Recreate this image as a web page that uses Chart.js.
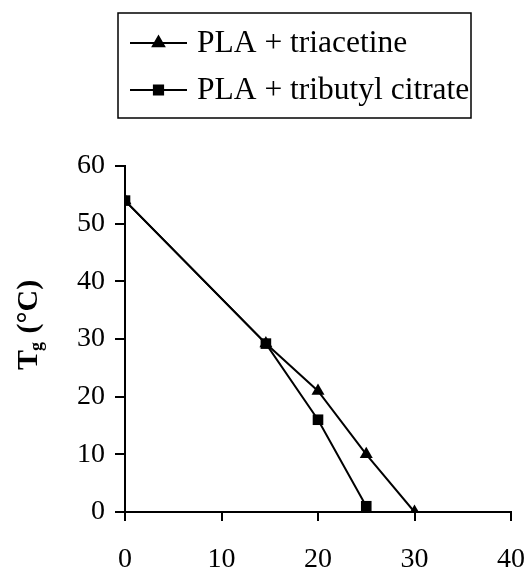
<!DOCTYPE html>
<html>
<head>
<meta charset="utf-8">
<script src="https://cdn.jsdelivr.net/npm/chart.js@4/dist/chart.umd.min.js"></script>
<style>
  html, body { margin: 0; padding: 0; background: #fff; }
  #wrap { width: 532px; height: 571px; }
</style>
</head>
<body>
<div id="wrap"><canvas id="tg_chart" width="532" height="571"></canvas></div>
<script>
// data
const seriesNames = ['PLA + triacetine', 'PLA + tributyl citrate'];
const triacetineX = [0, 14.6, 20, 25, 30];
const triacetineY = [54, 29.2, 21, 10, 0];
const citrateX = [0, 14.6, 20, 25];
const citrateY = [54, 29.2, 16, 1];
const xTicks = [0, 10, 20, 30, 40];
const yTicks = [0, 10, 20, 30, 40, 50, 60];

const serif = "'Liberation Serif', 'DejaVu Serif', serif";

function toPoints(xs, ys){
    return xs.map((x, i) => ({x: x, y: ys[i]}));
}

// legend in a framed box, drawn from the datasets
const boxLegend = {
    id: 'boxLegend',
    afterDraw(chart){
        const ctx = chart.ctx;
        ctx.save();
        ctx.strokeStyle = '#000';
        ctx.lineWidth = 1.5;
        ctx.strokeRect(118, 13, 353, 105);
        const rows = [43, 90];
        chart.data.datasets.forEach((ds, i) => {
            const y = rows[i];
            ctx.lineWidth = 2;
            ctx.beginPath();
            ctx.moveTo(130, y);
            ctx.lineTo(187, y);
            ctx.stroke();
            Chart.helpers.drawPoint(ctx, {pointStyle: ds.pointStyle, radius: 6.5, borderWidth: 1}, 158.5, y);
            ctx.fillStyle = '#000';
            ctx.fill();
            ctx.font = '31.5px ' + serif;
            ctx.textBaseline = 'middle';
            ctx.fillText(ds.label, 197, y + 1);
        });
        ctx.restore();
    }
};

// rotated y title with subscript g
const yTitle = {
    id: 'yTitle',
    afterDraw(chart){
        const ctx = chart.ctx;
        ctx.save();
        ctx.translate(37, 370);
        ctx.rotate(-Math.PI / 2);
        ctx.fillStyle = '#000';
        ctx.textBaseline = 'alphabetic';
        ctx.font = 'bold 30px ' + serif;
        ctx.fillText('T', 0, 0);
        let w = ctx.measureText('T').width;
        ctx.font = 'bold 18px ' + serif;
        ctx.fillText('g', w - 1, 5);
        w += ctx.measureText('g').width;
        ctx.font = 'bold 30px ' + serif;
        ctx.fillText(' (\u00B0C)', w, 0);
        ctx.restore();
    }
};

const data = {
    datasets: [{
        label: seriesNames[0],
        data: toPoints(triacetineX, triacetineY),
        borderColor: '#000',
        backgroundColor: '#000',
        borderWidth: 2,
        pointStyle: 'triangle',
        pointRadius: 7.5,
        pointBorderWidth: 0,
        pointBackgroundColor: '#000'
    }, {
        label: seriesNames[1],
        data: toPoints(citrateX, citrateY),
        borderColor: '#000',
        backgroundColor: '#000',
        borderWidth: 2,
        pointStyle: 'rect',
        pointRadius: 7.5,
        pointBorderWidth: 0,
        pointBackgroundColor: '#000'
    }]
};

const axisGrid = {
    display: true,
    drawOnChartArea: false,
    drawTicks: true,
    color: '#000',
    lineWidth: 2
};

const config = {
    type: 'line',
    data: data,
    options: {
        responsive: false,
        animation: false,
        layout: { padding: { top: 166, right: 21, left: 0, bottom: 0 } },
        plugins: {
            legend: { display: false },
            tooltip: { enabled: false }
        },
        scales: {
            x: {
                type: 'linear',
                min: 0,
                max: 40,
                afterBuildTicks: (s) => { s.ticks = xTicks.map(v => ({value: v})); },
                afterFit: (s) => { s.height = 59; s.paddingLeft = 0; s.paddingRight = 0; },
                ticks: {
                    color: '#000',
                    font: { family: serif, size: 28 },
                    padding: 22,
                    maxRotation: 0
                },
                grid: Object.assign({}, axisGrid, { tickLength: 9 }),
                border: { color: '#000', width: 2 }
            },
            y: {
                min: 0,
                max: 60,
                afterBuildTicks: (s) => { s.ticks = yTicks.map(v => ({value: v})); },
                afterFit: (s) => { s.width = 125; s.paddingTop = 0; s.paddingBottom = 0; },
                ticks: {
                    color: '#000',
                    font: { family: serif, size: 28 },
                    padding: 10
                },
                grid: Object.assign({}, axisGrid, { tickLength: 10 }),
                border: { color: '#000', width: 2 }
            }
        }
    },
    plugins: [boxLegend, yTitle]
};

window.onload = function() {
    const canvas = document.getElementById('tg_chart');
    new Chart(canvas, config);
};
</script>
</body>
</html>
